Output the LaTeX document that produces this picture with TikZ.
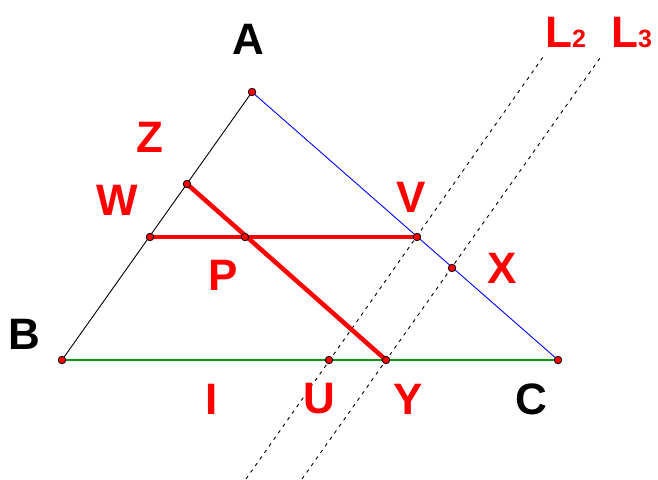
\documentclass[tikz,border=0pt]{standalone}
\usepackage{fontspec}
\setmainfont{Liberation Sans}
\definecolor{myred}{RGB}{255,0,0}
\definecolor{mygreen}{RGB}{20,150,20}
\definecolor{myblue}{RGB}{0,0,255}
\tikzset{
  pt/.style={circle,fill=myred,draw=black,line width=0.8pt,inner sep=0pt,minimum size=7.5pt},
  lbl/.style={font=\fontsize{44}{44}\selectfont\bfseries,inner sep=0pt,anchor=center},
  redlbl/.style={lbl,text=myred},
  blacklbl/.style={lbl,text=black},
  thickred/.style={draw=myred,line width=4.5pt},
  dashline/.style={draw=black,line width=0.9pt,dash pattern=on 3.5pt off 4.5pt}
}
\begin{document}
\begin{tikzpicture}[x=1pt,y=-1pt]
\useasboundingbox (0,0) rectangle (658,479);
% geometry
\coordinate (A) at (252,92);
\coordinate (B) at (62,360);
\coordinate (C) at (558,360);
\coordinate (Z) at (187,184);
\coordinate (W) at (150,237);
\coordinate (P) at (245,237);
\coordinate (V) at (417,237);
\coordinate (X) at (452,268);
\coordinate (U) at (329,360);
\coordinate (Y) at (386,360);
\coordinate (L2a) at (246,479);
\coordinate (L2b) at (543,57);
\coordinate (L3a) at (302,479);
\coordinate (L3b) at (600,58);
% lines
\draw[dashline] (L2a) -- (L2b);
\draw[dashline] (L3a) -- (L3b);
\draw[black,line width=0.9pt] (A) -- (B);
\draw[myblue,line width=0.9pt] (A) -- (C);
\draw[mygreen,line width=1.3pt] (B) -- (C);
\draw[thickred] (W) -- (V);
\draw[thickred] (Z) -- (Y);
% points
\foreach \p in {A,B,C,Z,W,P,V,X,U,Y} \node[pt] (d\p) at (\p) {};
% labels
\node[blacklbl] (tA) at (248,39) {A};
\node[blacklbl] (tB) at (24,334) {B};
\node[blacklbl] (tC) at (531,399) {C};
\node[redlbl] (tZ) at (150,137) {Z};
\node[redlbl] (tW) at (117,200) {W};
\node[redlbl] (tV) at (411,197) {V};
\node[redlbl] (tX) at (502,268) {X};
\node[redlbl] (tP) at (223,275) {P};
\node[redlbl] (tI) at (212,399) {I};
\node[redlbl] (tU) at (319,399) {U};
\node[redlbl] (tY) at (408,399) {Y};
\node[redlbl,anchor=base west] (tL2) at (545,47) {L{\fontsize{25}{25}\selectfont 2}};
\node[redlbl,anchor=base west] (tL3) at (611,47) {L{\fontsize{25}{25}\selectfont 3}};
\end{tikzpicture}
\end{document}
